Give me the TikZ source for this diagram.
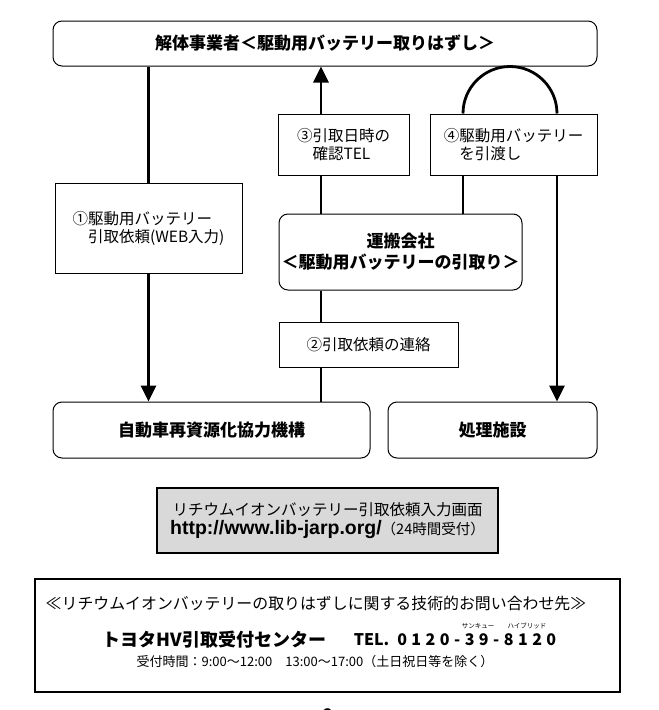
\documentclass[tikz,border=0pt]{standalone}
\usepackage{fontspec}
\setmainfont{Noto Sans CJK JP}
\newfontfamily\telfont[LetterSpace=28]{Noto Sans CJK JP}
\newfontfamily\urlfont{Liberation Sans}
\usetikzlibrary{arrows.meta}
\definecolor{webgray}{HTML}{D9D9D9}

\begin{document}
\begin{tikzpicture}[x=1pt, y=-1pt,
  flowbox/.style={draw, line width=1pt, rounded corners=9pt, inner sep=0pt,
    align=center, font=\fontsize{17}{21}\selectfont\bfseries},
  labelbox/.style={draw, line width=1pt, inner sep=0pt, align=left,
    font=\fontsize{15.5}{18}\selectfont},
  link/.style={line width=2.8pt},
  flow/.style={link, -{Triangle[length=16pt, width=15pt]}}]
\useasboundingbox (0,0) rectangle (659,710);

\node[flowbox, minimum width=544pt, minimum height=45pt] (dismantler) at (325,43.5) {解体事業者＜駆動用バッテリー取りはずし＞};
\node[labelbox, minimum width=187pt, minimum height=90pt] (request) at (148.5,228) {①駆動用バッテリー\\\hspace*{1em}引取依頼(WEB入力)};
\node[labelbox, minimum width=131pt, minimum height=61pt] (confirm) at (343.5,144.5) {③引取日時の\\\hspace*{1em}確認TEL};
\node[labelbox, minimum width=167pt, minimum height=61pt] (handover) at (513.5,144.5) {④駆動用バッテリー\\\hspace*{1em}を引渡し};
\node[flowbox, minimum width=243pt, minimum height=76pt] (carrier) at (400.5,252) {運搬会社\\＜駆動用バッテリーの引取り＞};
\node[labelbox, minimum width=179pt, minimum height=45pt] (notify) at (368.5,344.5) {②引取依頼の連絡};
\node[flowbox, minimum width=317pt, minimum height=56pt] (jarp) at (211.5,430) {自動車再資源化協力機構};
\node[flowbox, minimum width=209pt, minimum height=56pt] (plant) at (492.5,430) {処理施設};

\path (321,0) coordinate (lane)
      (463,0) coordinate (loopL)
      (557,0) coordinate (loopR);

%%%%%%%%%%%%%%%%%%%%%%%%%%%%%%%%%%%%%%%%

\draw[link] (dismantler.south -| request.north) -- (request.north);
\draw[flow] (request.south) -- (request.south |- jarp.north);
\draw[flow] (lane |- confirm.north) -- (lane |- dismantler.south);
\draw[link] (lane |- carrier.north) -- (lane |- confirm.south);
\draw[link] (lane |- notify.north) -- (lane |- carrier.south);
\draw[link] (lane |- jarp.north) -- (lane |- notify.south);
\draw[link] (loopL |- handover.north) arc[start angle=180, end angle=0, radius=47pt];
\draw[link] (loopL |- handover.south) -- (loopL |- carrier.north);
\draw[flow] (loopR |- handover.south) -- (loopR |- plant.north);

%%%%%%%%%%%%%%%%%%%%%%%%%%%%%%%%%%%%%%%%

\node[draw, line width=2.5pt, fill=webgray, minimum width=341pt, minimum height=65pt,
  inner sep=0pt, align=center, font=\fontsize{15.5}{19}\selectfont] (webentry) at (327.5,520.5)
  {リチウムイオンバッテリー引取依頼入力画面\\{\urlfont\bfseries\fontsize{19.5}{19}\selectfont http://www.lib-jarp.org/}{\fontsize{14.5}{19}\selectfont（24時間受付）}};

\node[draw, line width=1.2pt, minimum width=585pt, minimum height=113pt] (contact) at (327.5,635.5) {};
\node[font=\fontsize{15.9}{18}\selectfont] (inquiry) at (316,603) {≪リチウムイオンバッテリーの取りはずしに関する技術的お問い合わせ先≫};
\node[font=\fontsize{18}{20}\selectfont\bfseries] (hotline) at (214.5,640) {トヨタHV引取受付センター};
\node[font=\fontsize{16}{20}\selectfont\bfseries] (telno) at (455,640) {TEL.\hspace{8pt}{\telfont 0120-39-8120}};
\node[inner sep=0pt, font=\fontsize{6.5}{7}\selectfont] (rubythanks) at (478,626) {サンキュー};
\node[inner sep=0pt, font=\fontsize{6.5}{7}\selectfont] (rubyhybrid) at (527,626) {ハイブリッド};
\node[font=\fontsize{13}{15}\selectfont] (hours) at (315,662) {受付時間：9:00～12:00　13:00～17:00（土日祝日等を除く）};

\begin{scope}
\clip (0,0) rectangle (659,710);
\node[font=\fontsize{16}{18}\selectfont\bfseries] (pageno) at (328,715) {2};
\end{scope}
\end{tikzpicture}
\end{document}
